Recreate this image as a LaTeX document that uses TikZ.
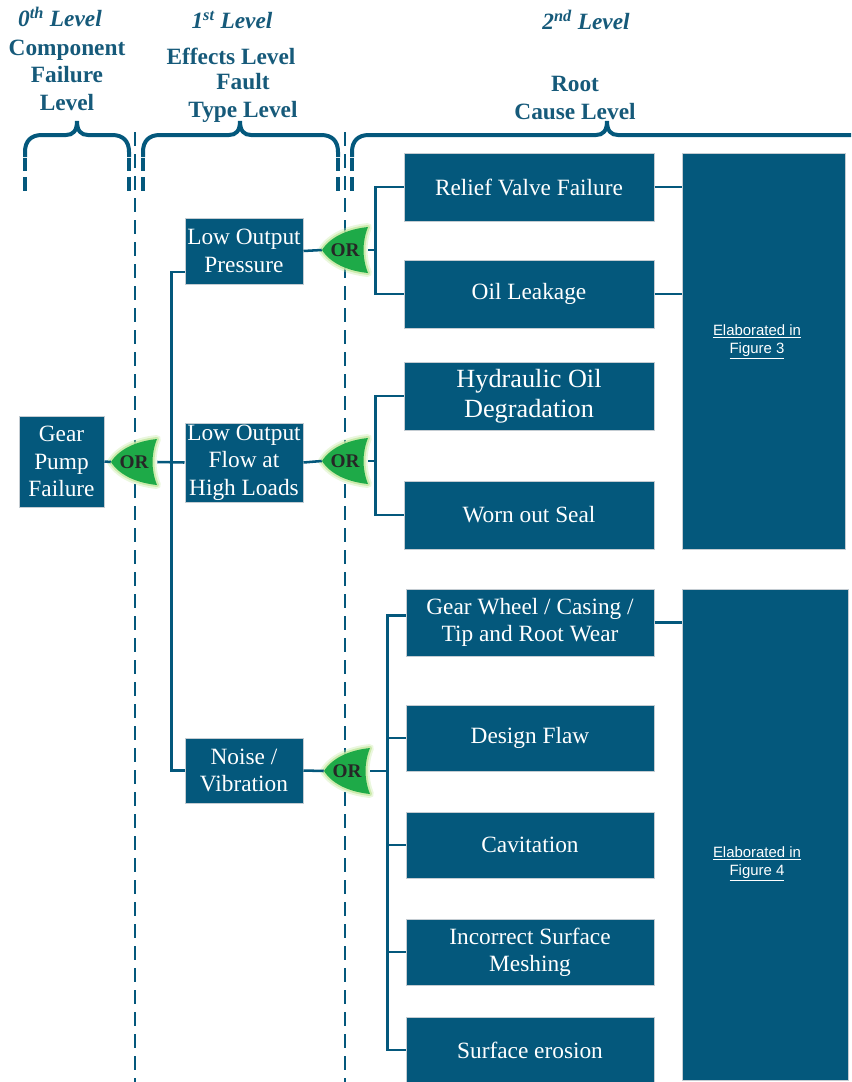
\documentclass[tikz,border=0pt]{standalone}
\usepackage{fontspec}
\setmainfont{Liberation Serif}
\newfontfamily\notefont{Liberation Sans}
\usetikzlibrary{calc}

\definecolor{fmblue}{RGB}{4,88,124}
\definecolor{hdrblue}{RGB}{22,90,122}
\definecolor{boxedge}{RGB}{196,204,210}
\definecolor{gategreen}{RGB}{30,170,72}
\definecolor{glowgreen}{RGB}{196,232,160}

\tikzset{
  box/.style={draw=boxedge, line width=0.75pt, fill=fmblue, text=white, align=center,
    inner sep=0pt, font=\fontsize{17.5}{20.5}\selectfont},
  bigbox/.style={draw=boxedge, line width=0.75pt, fill=fmblue, inner sep=0pt},
  note/.style={text=white, align=center, inner sep=0pt, font=\notefont\fontsize{11.2}{13.5}\selectfont},
  wire/.style={draw=fmblue, line width=1.9pt},
  bracepath/.style={draw=fmblue, line width=3pt},
  stub/.style={draw=fmblue, line width=3pt, dash pattern=on 10pt off 4.5pt},
  divider/.style={draw=fmblue, line width=1.6pt, dash pattern=on 10.5pt off 6pt},
  hdr/.style={text=hdrblue, align=center, inner sep=0pt, font=\fontsize{17.5}{20.6}\selectfont\bfseries},
  hdrlevel/.style={text=hdrblue, inner sep=0pt, font=\fontsize{17.5}{20}\selectfont\bfseries\itshape},
  gatelbl/.style={inner sep=0pt, minimum width=34.5pt, minimum height=33.75pt,
    text=black!85, font=\fontsize{14.5}{15}\selectfont\bfseries},
  orgate/.pic={
    \path[draw=glowgreen, line width=6pt, line join=round, opacity=0.35]
      (-23,0) .. controls (-14,-14) and (4,-21) .. (23,-23)
      .. controls (17,-8) and (17,8) .. (23,23)
      .. controls (4,21) and (-14,14) .. (-23,0) -- cycle;
    \path[draw=glowgreen, line width=3pt, line join=round, opacity=0.8]
      (-23,0) .. controls (-14,-14) and (4,-21) .. (23,-23)
      .. controls (17,-8) and (17,8) .. (23,23)
      .. controls (4,21) and (-14,14) .. (-23,0) -- cycle;
    \path[fill=gategreen]
      (-23,0) .. controls (-14,-14) and (4,-21) .. (23,-23)
      .. controls (17,-8) and (17,8) .. (23,23)
      .. controls (4,21) and (-14,14) .. (-23,0) -- cycle;
  }
}

% curly brace over a column: left x, right x, tip x
\newcommand\levelbrace[3]{%
  \draw[bracepath] (#1,157) -- (#1,152) .. controls (#1,141) and ({#1+6},135) .. ({#1+17},135)
    -- ({#3-11},135) .. controls ({#3-4},135) and (#3,131) .. (#3,121)
    .. controls (#3,131) and ({#3+4},135) .. ({#3+11},135)
    -- ({#2-17},135) .. controls ({#2-6},135) and (#2,141) .. (#2,152) -- (#2,157);
  \draw[stub] (#1,158) -- (#1,196);
  \draw[stub] (#2,158) -- (#2,196);
}

\begin{document}
\begin{tikzpicture}[x=0.75pt,y=-0.75pt]
\path[use as bounding box] (0,0) rectangle (851,1082);
\clip (0,0) rectangle (851,1082);

% column headings
\node[hdrlevel] at (60,17) {0\textsuperscript{th} Level};
\node[hdr] at (67,75) {Component\\Failure\\Level};
\node[hdrlevel] at (232,20) {1\textsuperscript{st} Level};
\node[hdr] at (231,56) {Effects Level};
\node[hdr] at (243,98) {Fault\\Type Level};
\node[hdrlevel] at (586,20) {2\textsuperscript{nd} Level};
\node[hdr] at (575,98) {Root\\Cause Level};

% braces and column dividers
\levelbrace{25}{129}{77}
\levelbrace{143}{338}{240}
\levelbrace{352}{866}{607}
\draw[divider] (135,132) -- (135,1082);
\draw[divider] (345,132) -- (345,1082);

% 0th level
\node[box, minimum width=63.75pt, minimum height=68.25pt] (gp) at (61.5,461.5) {Gear\\Pump\\Failure};

% 1st level
\node[box, minimum width=88.5pt, minimum height=49.5pt] (lop) at (244,251) {Low Output\\Pressure};
\node[box, minimum width=88.5pt, minimum height=59.25pt] (lof) at (244,462.5) {Low Output\\Flow at\\High Loads};
\node[box, minimum width=88.5pt, minimum height=48.75pt] (nv) at (244,770.5) {Noise /\\Vibration};

% 2nd level
\node[box, minimum width=187.5pt, minimum height=51pt] (rv) at (529,187) {Relief Valve Failure};
\node[box, minimum width=187.5pt, minimum height=51pt] (ol) at (529,294) {Oil Leakage};
\node[box, minimum width=187.5pt, minimum height=51pt, font=\fontsize{19.7}{22.5}\selectfont] (hod) at (529,396) {Hydraulic Oil\\Degradation};
\node[box, minimum width=187.5pt, minimum height=51pt] (wos) at (529,515) {Worn out Seal};
\node[box, minimum width=186pt, minimum height=50.25pt] (gw) at (530,622.5) {Gear Wheel / Casing /\\Tip and Root Wear};
\node[box, minimum width=186pt, minimum height=49.5pt] (df) at (530,738) {Design Flaw};
\node[box, minimum width=186pt, minimum height=49.5pt] (cav) at (530,845) {Cavitation};
\node[box, minimum width=186pt, minimum height=49.5pt] (ism) at (530,952) {Incorrect Surface\\Meshing};
\node[box, minimum width=186pt, minimum height=49.5pt] (se) at (530,1050) {Surface erosion};

\node[bigbox, minimum width=122.25pt, minimum height=297pt] (f3) at (763.5,351) {};
\node[bigbox, minimum width=124.5pt, minimum height=368.25pt] (f4) at (765,834.5) {};
\node[note] at (757,342) {\underline{Elaborated in}\\\underline{Figure 3}};
\node[note] at (757,864) {\underline{Elaborated in}\\\underline{Figure 4}};

% gates
\pic at (134,462) {orgate};
\node[gatelbl] (g1) at (134,462) {OR};
\pic at (345,250) {orgate};
\node[gatelbl] (g2) at (345,250) {OR};
\pic at (345,461) {orgate};
\node[gatelbl] (g3) at (345,461) {OR};
\pic at (347,771) {orgate};
\node[gatelbl] (g4) at (347,771) {OR};

% connectors
\coordinate (j1) at ($(g1.east)+(14,0)$);
\coordinate (lopin) at ($(lop.west)+(0,21)$);
\coordinate (j2) at ($(g2.east)+(7,0)$);
\coordinate (j3) at ($(g3.east)+(7,0)$);
\coordinate (j4) at ($(g4.east)+(17,0)$);
\coordinate (gwin) at ($(gw.west)+(0,-7)$);

\draw[wire] (gp.east) -- (g1.west);
\draw[wire] (g1.east) -- (lof.west);
\draw[wire] (lopin) -| (j1) |- (nv.west);

\draw[wire] (lop.east) -- (g2.west);
\draw[wire] (g2.east) -- (j2);
\draw[wire] (rv.west) -| (j2) |- (ol.west);

\draw[wire] (lof.east) -- (g3.west);
\draw[wire] (g3.east) -- (j3);
\draw[wire] (hod.west) -| (j3) |- (wos.west);

\draw[wire] (nv.east) -- (g4.west);
\draw[wire] (g4.east) -- (j4);
\draw[wire] (gwin) -| (j4) |- (se.west);
\draw[wire] (j4 |- df.west) -- (df.west);
\draw[wire] (j4 |- cav.west) -- (cav.west);
\draw[wire] (j4 |- ism.west) -- (ism.west);

\draw[wire] (rv.east) -- (f3.west |- rv.east);
\draw[wire] (ol.east) -- (f3.west |- ol.east);
\draw[wire] (gw.east) -- (f4.west |- gw.east);
\end{tikzpicture}
\end{document}
